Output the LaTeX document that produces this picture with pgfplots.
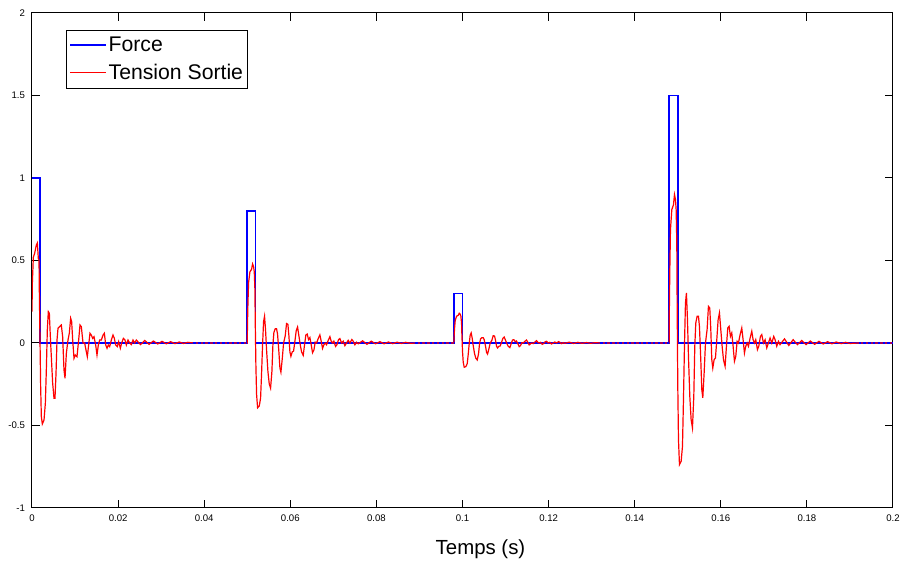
\documentclass[border=0pt]{standalone}
\usepackage{fontspec}
\setmainfont{Liberation Sans}
\usepackage{pgfplots}
\pgfplotsset{compat=1.18}
\definecolor{mblue}{RGB}{0,0,255}
\definecolor{mred}{RGB}{255,0,0}
\begin{document}
\begin{tikzpicture}
\begin{axis}[
  scale only axis, width=430.5pt, height=247.5pt,
  xmin=0, xmax=0.2, ymin=-1, ymax=2,
  axis line style={black, line width=0.5pt},
  tick style={black, line width=0.5pt},
  tick align=inside, major tick length=4pt,
  xtick={0,0.02,0.04,0.06,0.08,0.1,0.12,0.14,0.16,0.18,0.2},
  xticklabels={0,0.02,0.04,0.06,0.08,0.1,0.12,0.14,0.16,0.18,0.2},
  ytick={-1,-0.5,0,0.5,1,1.5,2},
  yticklabels={-1,-0.5,0,0.5,1,1.5,2},
  ticklabel style={font=\fontsize{4.8}{5}\selectfont},
  xlabel={Temps (s)},
  xlabel style={at={(axis description cs:0.5,0)}, anchor=center, yshift=-20.5pt, xshift=9pt, font=\fontsize{10.2}{12}\selectfont},
  legend style={at={(0,1)}, anchor=north west, xshift=17pt, yshift=-8.5pt, draw=black, line width=0.5pt,
    inner xsep=1.5pt, inner ysep=0.6pt, font=\fontsize{10.6}{12}\selectfont,
    nodes={inner xsep=0.8pt, inner ysep=2.4pt}},
  legend cell align=left,
  legend image code/.code={\draw[#1] (0pt,0pt) -- (18pt,0pt);},
]
\addplot[color=mblue, draw=mblue, line width=0.8pt, sharp plot] coordinates {
(0,1)(0.0018,1)(0.0018,0)(0.05,0)(0.05,0.8)(0.0519,0.8)(0.0519,0)
(0.098,0)(0.098,0.3)(0.1,0.3)(0.1,0)(0.148,0)(0.148,1.5)(0.15,1.5)(0.15,0)(0.2,0)};
\addlegendentry{Force}
\addplot[color=mred, draw=mred, line width=0.6pt, sharp plot] table[row sep=\\] {
t v\\
0.00000 0.19\\ 0.00008 0.36\\ 0.00031 0.52\\ 0.00062 0.544\\ 0.00101 0.594\\ 0.00124 0.606\\
0.00147 0.513\\ 0.00163 0.503\\ 0.00170 0.321\\ 0.00186 0.018\\ 0.00201 -0.265\\ 0.00217 -0.446\\
0.00240 -0.491\\ 0.00279 -0.467\\ 0.00310 -0.366\\ 0.00333 -0.164\\ 0.00356 0.079\\ 0.00379 0.19\\
0.00403 0.18\\ 0.00426 0.038\\ 0.00449 -0.083\\ 0.00480 -0.244\\ 0.00511 -0.335\\ 0.00534 -0.335\\
0.00558 -0.184\\ 0.00581 0.018\\ 0.00604 0.089\\ 0.00643 0.10\\ 0.00681 0.109\\ 0.00712 0.038\\
0.00743 -0.164\\ 0.00767 -0.214\\ 0.00798 -0.063\\ 0.00836 0.018\\ 0.00867 0.059\\ 0.00898 0.15\\
0.00921 0.13\\ 0.00945 0.018\\ 0.00976 -0.093\\ 0.01007 -0.073\\ 0.01045 -0.083\\ 0.01084 0.018\\
0.01115 0.109\\ 0.01146 0.099\\ 0.01185 0.0\\ 0.01223 0.0\\ 0.01254 -0.042\\ 0.01285 -0.083\\
0.01316 -0.012\\ 0.01347 0.059\\ 0.01378 0.048\\ 0.01409 0.028\\ 0.01440 0.038\\ 0.01479 -0.012\\
0.01510 -0.073\\ 0.01541 -0.012\\ 0.01572 0.018\\ 0.01611 0.018\\ 0.01650 0.048\\ 0.01681 0.059\\
0.01712 -0.012\\ 0.01743 -0.032\\ 0.01773 -0.012\\ 0.01804 -0.022\\ 0.01843 0.018\\ 0.01882 0.048\\
0.01913 0.028\\ 0.01944 -0.012\\ 0.01982 -0.022\\ 0.02013 0.008\\ 0.02052 -0.032\\ 0.02083 0.0\\
0.02122 0.028\\ 0.02160 0.018\\ 0.02191 -0.012\\ 0.02230 0.018\\ 0.02269 0.0\\ 0.02307 -0.010\\
0.02346 0.018\\ 0.02385 0.0\\ 0.02424 0.018\\ 0.0252 -0.010\\ 0.0262 0.015\\ 0.0272 -0.008\\
0.0282 0.012\\ 0.0292 -0.006\\ 0.0302 0.010\\ 0.0312 -0.005\\ 0.0322 0.008\\ 0.0332 -0.004\\
0.0342 0.006\\ 0.0352 -0.003\\ 0.0362 0.004\\ 0.0375 0.0\\
0.05000 0\\ 0.05005 0.108\\ 0.05016 0.237\\ 0.05031 0.366\\ 0.05062 0.431\\ 0.05101 0.447\\
0.05124 0.479\\ 0.05147 0.463\\ 0.05163 0.431\\ 0.05178 0.323\\ 0.05186 0.129\\ 0.05201 -0.140\\
0.05217 -0.312\\ 0.05240 -0.393\\ 0.05279 -0.382\\ 0.05310 -0.334\\ 0.05333 -0.183\\ 0.05356 -0.011\\
0.05379 0.129\\ 0.05402 0.162\\ 0.05426 0.075\\ 0.05449 -0.043\\ 0.05480 -0.172\\ 0.05511 -0.248\\
0.05542 -0.274\\ 0.05573 -0.172\\ 0.05596 -0.011\\ 0.05619 0.064\\ 0.05650 0.086\\ 0.05681 0.086\\
0.05704 0.054\\ 0.05735 -0.054\\ 0.05759 -0.151\\ 0.05782 -0.177\\ 0.05813 -0.097\\ 0.05844 0\\
0.05882 0.043\\ 0.05913 0.118\\ 0.05944 0.113\\ 0.05968 0.043\\ 0.05991 -0.054\\ 0.06014 -0.081\\
0.06045 -0.054\\ 0.06076 -0.049\\ 0.06107 0.011\\ 0.06138 0.075\\ 0.06169 0.097\\ 0.06200 0.043\\
0.06231 -0.011\\ 0.06262 -0.054\\ 0.06300 -0.075\\ 0.06331 -0.011\\ 0.06362 0.049\\ 0.06393 0.054\\
0.06424 0.021\\ 0.06455 0.033\\ 0.06486 -0.011\\ 0.06517 -0.059\\ 0.06548 -0.043\\ 0.06579 0.005\\
0.06610 0\\ 0.06649 0.027\\ 0.06687 0.049\\ 0.06718 0.011\\ 0.06749 -0.033\\ 0.06780 -0.011\\
0.06811 0\\ 0.06842 -0.011\\ 0.06881 0.016\\ 0.06920 0.038\\ 0.06950 0.011\\ 0.06981 0\\
0.07012 0.011\\ 0.07051 -0.021\\ 0.07082 -0.011\\ 0.07121 0.021\\ 0.07152 0.027\\ 0.07190 0\\
0.07229 0.011\\ 0.07268 -0.016\\ 0.07307 0\\ 0.07345 0.016\\ 0.07384 0\\ 0.07430 0.021\\
0.07461 0.011\\ 0.07500 -0.011\\ 0.07539 0.005\\ 0.07577 -0.005\\ 0.0768 0.013\\ 0.0778 -0.008\\
0.0788 0.011\\ 0.0798 -0.005\\ 0.0808 0.008\\ 0.0818 -0.005\\ 0.0828 0.006\\ 0.0838 -0.004\\
0.0848 0.005\\ 0.0858 -0.003\\ 0.0868 0.004\\ 0.0880 -0.002\\ 0.0890 0\\
0.09800 0\\ 0.09805 0.040\\ 0.09816 0.089\\ 0.09831 0.137\\ 0.09862 0.162\\ 0.09901 0.168\\
0.09924 0.180\\ 0.09947 0.174\\ 0.09963 0.162\\ 0.09978 0.121\\ 0.09986 0.048\\ 0.10001 -0.053\\
0.10017 -0.117\\ 0.10040 -0.147\\ 0.10079 -0.143\\ 0.10110 -0.125\\ 0.10133 -0.069\\ 0.10156 -0.004\\
0.10179 0.048\\ 0.10202 0.061\\ 0.10226 0.028\\ 0.10249 -0.016\\ 0.10280 -0.065\\ 0.10311 -0.093\\
0.10342 -0.103\\ 0.10373 -0.065\\ 0.10396 -0.004\\ 0.10419 0.024\\ 0.10450 0.032\\ 0.10481 0.032\\
0.10504 0.020\\ 0.10535 -0.020\\ 0.10559 -0.057\\ 0.10582 -0.067\\ 0.10613 -0.036\\ 0.10644 0\\
0.10682 0.016\\ 0.10713 0.044\\ 0.10744 0.042\\ 0.10768 0.016\\ 0.10791 -0.020\\ 0.10814 -0.030\\
0.10845 -0.020\\ 0.10876 -0.018\\ 0.10907 0.004\\ 0.10938 0.028\\ 0.10969 0.036\\ 0.11000 0.016\\
0.11031 -0.004\\ 0.11062 -0.020\\ 0.11100 -0.028\\ 0.11131 -0.004\\ 0.11162 0.018\\ 0.11193 0.020\\
0.11224 0.008\\ 0.11255 0.012\\ 0.11286 -0.004\\ 0.11317 -0.022\\ 0.11348 -0.016\\ 0.11379 0.002\\
0.11410 0\\ 0.11449 0.010\\ 0.11487 0.018\\ 0.11518 0.004\\ 0.11549 -0.012\\ 0.11580 -0.004\\
0.11611 0\\ 0.11642 -0.004\\ 0.11681 0.006\\ 0.11720 0.014\\ 0.11750 0.004\\ 0.11781 0\\
0.11812 0.004\\ 0.11851 -0.008\\ 0.11882 -0.004\\ 0.11921 0.008\\ 0.11952 0.010\\ 0.11990 0\\
0.12029 0.004\\ 0.12068 -0.006\\ 0.12107 0\\ 0.12145 0.006\\ 0.12184 0\\ 0.12230 0.008\\
0.12261 0.004\\ 0.12300 -0.004\\ 0.12339 0.002\\ 0.12377 -0.002\\ 0.1248 0.005\\ 0.1258 -0.003\\
0.1268 0.004\\ 0.1278 -0.002\\ 0.1288 0.003\\ 0.1298 -0.002\\ 0.1308 0.002\\ 0.1320 0\\
0.14800 0\\ 0.14805 0.202\\ 0.14816 0.444\\ 0.14831 0.687\\ 0.14862 0.808\\ 0.14901 0.838\\
0.14924 0.899\\ 0.14947 0.869\\ 0.14963 0.808\\ 0.14978 0.606\\ 0.14986 0.242\\ 0.15001 -0.263\\
0.15017 -0.586\\ 0.15040 -0.737\\ 0.15079 -0.717\\ 0.15110 -0.626\\ 0.15133 -0.343\\ 0.15156 -0.020\\
0.15179 0.242\\ 0.15202 0.303\\ 0.15226 0.141\\ 0.15249 -0.081\\ 0.15280 -0.323\\ 0.15311 -0.465\\
0.15342 -0.515\\ 0.15373 -0.323\\ 0.15396 -0.020\\ 0.15419 0.121\\ 0.15450 0.162\\ 0.15481 0.162\\
0.15504 0.101\\ 0.15535 -0.101\\ 0.15559 -0.283\\ 0.15582 -0.333\\ 0.15613 -0.182\\ 0.15644 0.000\\
0.15682 0.081\\ 0.15713 0.222\\ 0.15744 0.212\\ 0.15768 0.081\\ 0.15791 -0.101\\ 0.15814 -0.152\\
0.15845 -0.101\\ 0.15876 -0.091\\ 0.15907 0.020\\ 0.15938 0.141\\ 0.15969 0.182\\ 0.16000 0.081\\
0.16031 -0.020\\ 0.16062 -0.101\\ 0.16100 -0.141\\ 0.16131 -0.020\\ 0.16162 0.091\\ 0.16193 0.101\\
0.16224 0.040\\ 0.16255 0.061\\ 0.16286 -0.020\\ 0.16317 -0.111\\ 0.16348 -0.081\\ 0.16379 0.010\\
0.16410 0.000\\ 0.16449 0.051\\ 0.16487 0.091\\ 0.16518 0.020\\ 0.16549 -0.061\\ 0.16580 -0.020\\
0.16611 0.000\\ 0.16642 -0.020\\ 0.16681 0.030\\ 0.16720 0.071\\ 0.16750 0.020\\ 0.16781 0.000\\
0.16812 0.020\\ 0.16851 -0.040\\ 0.16882 -0.020\\ 0.16921 0.040\\ 0.16952 0.051\\ 0.16990 0.000\\
0.17029 0.020\\ 0.17068 -0.030\\ 0.17107 0.000\\ 0.17145 0.030\\ 0.17184 0.000\\ 0.17230 0.040\\
0.17261 0.020\\ 0.17300 -0.020\\ 0.17339 0.010\\ 0.17377 -0.010\\ 0.1748 0.025\\ 0.1758 -0.015\\
0.1768 0.020\\ 0.1778 -0.010\\ 0.1788 0.015\\ 0.1798 -0.010\\ 0.1808 0.012\\ 0.1818 -0.008\\
0.1828 0.010\\ 0.1838 -0.006\\ 0.1848 0.008\\ 0.1858 -0.005\\ 0.1868 0.006\\ 0.1880 -0.004\\
0.1890 0.004\\ 0.1900 -0.003\\ 0.1920 0\\ 0.2000 0\\
};
\addlegendentry{Tension Sortie}
\addplot[color=mblue, draw=mblue, line width=0.7pt, dash pattern=on 1.2pt off 1.2pt, forget plot] coordinates {(0.0375,0)(0.05,0)};
\addplot[color=mblue, draw=mblue, line width=0.7pt, dash pattern=on 1.2pt off 1.2pt, forget plot] coordinates {(0.089,0)(0.098,0)};
\addplot[color=mblue, draw=mblue, line width=0.7pt, dash pattern=on 1.2pt off 1.2pt, forget plot] coordinates {(0.132,0)(0.148,0)};
\addplot[color=mblue, draw=mblue, line width=0.7pt, dash pattern=on 1.2pt off 1.2pt, forget plot] coordinates {(0.192,0)(0.2,0)};
\end{axis}
\pgfresetboundingbox
\path (-16pt,-28.5pt) rectangle (435pt,254pt);
\end{tikzpicture}
\end{document}
